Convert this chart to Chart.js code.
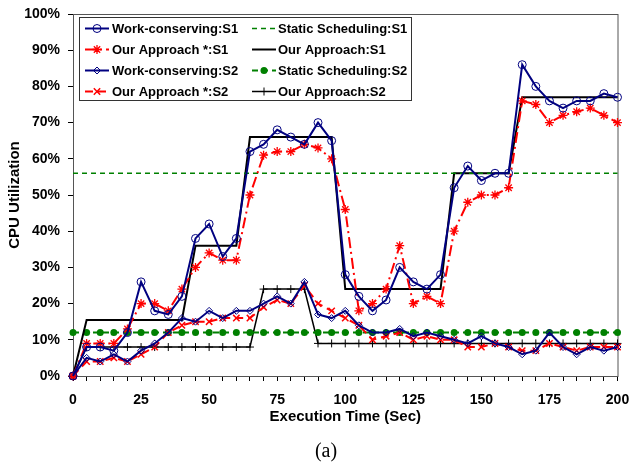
<!DOCTYPE html>
<html>
<head>
<meta charset="utf-8">
<script src="https://cdn.jsdelivr.net/npm/chart.js@4/dist/chart.umd.min.js"></script>
<style>
  html, body { margin: 0; padding: 0; background: #fff; }
  #wrap { width: 631px; height: 464px; }
</style>
</head>
<body>
<div id="wrap"><canvas id="c" width="631" height="464"></canvas></div>
<script>
// Execution time samples (seconds)
const timeSec = [0, 5, 10, 15, 20, 25, 30, 35, 40, 45, 50, 55, 60, 65, 70, 75, 80, 85, 90, 95,
  100, 105, 110, 115, 120, 125, 130, 135, 140, 145, 150, 155, 160, 165, 170, 175, 180, 185, 190, 195, 200];

// CPU utilization (%) per series
const workConservingS1 = [0, 8, 8, 7, 12, 26, 18, 17, 22, 38, 42, 33, 38, 62, 64, 68, 66, 64, 70, 65,
  28, 22, 18, 21, 30, 26, 24, 28, 52, 58, 54, 56, 56, 86, 80, 76, 74, 76, 76, 78, 77];
const ourApproachStarS1 = [0, 9, 9, 9, 13, 20, 20, 18, 24, 30, 34, 32, 32, 50, 61, 62, 62, 64, 63, 60,
  46, 18, 20, 24, 36, 20, 22, 20, 40, 48, 50, 50, 52, 76, 75, 70, 72, 73, 74, 72, 70];
const workConservingS2 = [0, 5, 4, 6, 4, 7, 9, 12, 16, 15, 18, 16, 18, 18, 20, 22, 20, 26, 17, 16,
  18, 14, 12, 12, 13, 11, 12, 11, 10, 9, 11, 9, 8, 6, 7, 12, 8, 6, 8, 7, 8];
const ourApproachStarS2 = [0, 4, 4, 5, 4, 6, 8, 12, 14, 15, 15, 16, 16, 16, 19, 21, 20, 25, 20, 18,
  16, 14, 10, 11, 12, 10, 11, 10, 10, 8, 8, 9, 8, 7, 7, 9, 8, 7, 8, 8, 8];
const staticSchedulingS1 = [56, 56, 56, 56, 56, 56, 56, 56, 56, 56, 56, 56, 56, 56, 56, 56, 56, 56, 56, 56,
  56, 56, 56, 56, 56, 56, 56, 56, 56, 56, 56, 56, 56, 56, 56, 56, 56, 56, 56, 56, 56];
const ourApproachS1 = [0, 15.5, 15.5, 15.5, 15.5, 15.5, 15.5, 15.5, 15.5, 36, 36, 36, 36, 66, 66, 66, 66, 66, 66, 66,
  24, 24, 24, 24, 24, 24, 24, 24, 56, 56, 56, 56, 56, 77, 77, 77, 77, 77, 77, 77, 77];
const staticSchedulingS2 = [12, 12, 12, 12, 12, 12, 12, 12, 12, 12, 12, 12, 12, 12, 12, 12, 12, 12, 12, 12,
  12, 12, 12, 12, 12, 12, 12, 12, 12, 12, 12, 12, 12, 12, 12, 12, 12, 12, 12, 12, 12];
const ourApproachS2 = [0, 8, 8, 8, 8, 8, 8, 8, 8, 8, 8, 8, 8, 8, 24, 24, 24, 24, 9, 9,
  9, 9, 9, 9, 9, 9, 9, 9, 9, 9, 9, 9, 9, 9, 9, 9, 9, 9, 9, 9, 9];

// Tick labels
const xTickLabels = [0, 25, 50, 75, 100, 125, 150, 175, 200];
const yTickLabels = ['0%', '10%', '20%', '30%', '40%', '50%', '60%', '70%', '80%', '90%', '100%'];

const SANS = '"Liberation Sans", Arial, Helvetica, sans-serif';
const SERIF = '"Liberation Serif", "Times New Roman", serif';
const NAVY = '#000080';
const RED = '#ff0000';
const GREEN = '#008000';
const NONE = 'rgba(0,0,0,0)';

const pts = arr => arr.map((v, i) => ({ x: timeSec[i], y: v }));

const datasets = [
  { label: 'Work-conserving:S1', data: pts(workConservingS1), borderColor: NAVY, borderWidth: 2,
    pointStyle: 'circle', pointRadius: 4, pointBorderWidth: 1, pointBorderColor: NAVY, pointBackgroundColor: NONE },
  { label: 'Our Approach *:S1', data: pts(ourApproachStarS1), borderColor: RED, borderWidth: 2,
    borderDash: [11, 4, 2, 4], pointStyle: 'star', pointRadius: 4.5, pointBorderWidth: 1.3,
    pointBorderColor: RED, pointBackgroundColor: RED },
  { label: 'Work-conserving:S2', data: pts(workConservingS2), borderColor: NAVY, borderWidth: 2,
    pointStyle: 'rectRot', pointRadius: 3.5, pointBorderWidth: 1, pointBorderColor: NAVY, pointBackgroundColor: NONE },
  { label: 'Our Approach *:S2', data: pts(ourApproachStarS2), borderColor: RED, borderWidth: 2,
    borderDash: [8, 5], pointStyle: 'crossRot', pointRadius: 4.5, pointBorderWidth: 1.5,
    pointBorderColor: RED, pointBackgroundColor: RED },
  { label: 'Static Scheduling:S1', data: pts(staticSchedulingS1), borderColor: GREEN, borderWidth: 1.5,
    borderDash: [5, 4], pointRadius: 0 },
  { label: 'Our Approach:S1', data: pts(ourApproachS1), borderColor: '#000', borderWidth: 2, pointRadius: 0 },
  { label: 'Static Scheduling:S2', data: pts(staticSchedulingS2), borderColor: GREEN, borderWidth: 2,
    borderDash: [6, 4], pointStyle: 'circle', pointRadius: 3.5, pointBorderWidth: 0,
    pointBorderColor: GREEN, pointBackgroundColor: GREEN },
  { label: 'Our Approach:S2', data: pts(ourApproachS2), borderColor: '#000', borderWidth: 1.5,
    pointStyle: 'cross', pointRadius: 4, pointBorderWidth: 1, pointBorderColor: '#000', pointBackgroundColor: '#000' }
];
datasets.forEach(d => { d.tension = 0; d.fill = false; d.clip = false; d.pointHoverRadius = d.pointRadius; });

// Frame around the plotting area
const frame = {
  id: 'frame',
  beforeDatasetsDraw(chart) {
    const { ctx, chartArea: a } = chart;
    ctx.save();
    ctx.strokeStyle = '#555';
    ctx.lineWidth = 1;
    ctx.strokeRect(a.left + 0.5, a.top + 0.5, a.right - a.left, a.bottom - a.top);
    ctx.restore();
  }
};

// Boxed two-column legend inside the plot, plus the "(a)" caption
const boxLegend = {
  id: 'boxLegend',
  afterDraw(chart) {
    const { ctx } = chart;
    const box = { l: 79.5, t: 17.5, r: 411.5, b: 100.5 };
    ctx.save();
    ctx.fillStyle = '#fff';
    ctx.fillRect(box.l, box.t, box.r - box.l, box.b - box.t);
    ctx.strokeStyle = '#333';
    ctx.lineWidth = 1;
    ctx.strokeRect(box.l, box.t, box.r - box.l, box.b - box.t);
    const cols = [{ x0: 85, x1: 109, tx: 112 }, { x0: 252, x1: 276, tx: 278 }];
    const drawPoint = Chart.helpers && Chart.helpers.drawPoint;
    chart.data.datasets.forEach((d, i) => {
      const c = cols[i < 4 ? 0 : 1];
      const y = 28.5 + (i % 4) * 21;
      ctx.save();
      ctx.strokeStyle = d.borderColor;
      ctx.lineWidth = d.borderWidth;
      ctx.setLineDash(d.borderDash || []);
      ctx.beginPath();
      ctx.moveTo(c.x0, y);
      ctx.lineTo(c.x1, y);
      ctx.stroke();
      ctx.setLineDash([]);
      if (d.pointRadius > 0 && drawPoint) {
        ctx.strokeStyle = d.pointBorderColor;
        ctx.fillStyle = d.pointBackgroundColor;
        ctx.lineWidth = d.pointBorderWidth;
        drawPoint(ctx, { pointStyle: d.pointStyle, radius: d.pointRadius, borderWidth: d.pointBorderWidth, rotation: 0 },
          (c.x0 + c.x1) / 2, y);
      }
      ctx.restore();
      ctx.fillStyle = '#000';
      ctx.font = 'bold 13px ' + SANS;
      ctx.textAlign = 'left';
      ctx.textBaseline = 'middle';
      ctx.fillText(d.label, c.tx, y + 0.5);
    });
    ctx.font = '20px ' + SERIF;
    ctx.textAlign = 'center';
    ctx.textBaseline = 'middle';
    ctx.fillStyle = '#000';
    ctx.fillText('(a)', 326, 452);
    ctx.restore();
  }
};

new Chart(document.getElementById('c'), {
  type: 'line',
  data: { datasets },
  options: {
    responsive: false,
    animation: false,
    devicePixelRatio: 1,
    layout: { padding: { top: 14, right: 13.5, left: 0, bottom: 0 } },
    plugins: { legend: { display: false }, tooltip: { enabled: false }, title: { display: false } },
    scales: {
      x: {
        type: 'linear', min: 0, max: 200,
        afterFit(s) { s.height = 88; s.paddingLeft = 0; s.paddingRight = 0; },
        grid: { display: true, drawOnChartArea: false, drawTicks: true, tickLength: 5, color: '#000', lineWidth: 1 },
        border: { display: true, color: '#000', width: 1 },
        ticks: {
          stepSize: 5, autoSkip: false, maxRotation: 0, padding: 11, color: '#000',
          font: { family: SANS, size: 14, weight: 'bold' },
          callback: v => (xTickLabels.includes(v) ? String(v) : '')
        },
        title: { display: true, text: 'Execution Time (Sec)', color: '#000',
          font: { family: SANS, size: 15, weight: 'bold' }, padding: { top: 0, bottom: 38 } }
      },
      y: {
        min: 0, max: 100,
        afterFit(s) { s.width = 73; s.paddingTop = 0; s.paddingBottom = 0; },
        grid: { display: true, drawOnChartArea: false, drawTicks: true, tickLength: 5, color: '#000', lineWidth: 1 },
        border: { display: true, color: '#000', width: 1 },
        ticks: {
          stepSize: 10, padding: 8, color: '#000',
          font: { family: SANS, size: 14, weight: 'bold' },
          callback: v => yTickLabels[Math.round(v / 10)]
        },
        title: { display: true, text: 'CPU Utilization', color: '#000',
          font: { family: SANS, size: 15, weight: 'bold' }, padding: { top: 6, bottom: 0 } }
      }
    }
  },
  plugins: [frame, boxLegend]
});
</script>
</body>
</html>
